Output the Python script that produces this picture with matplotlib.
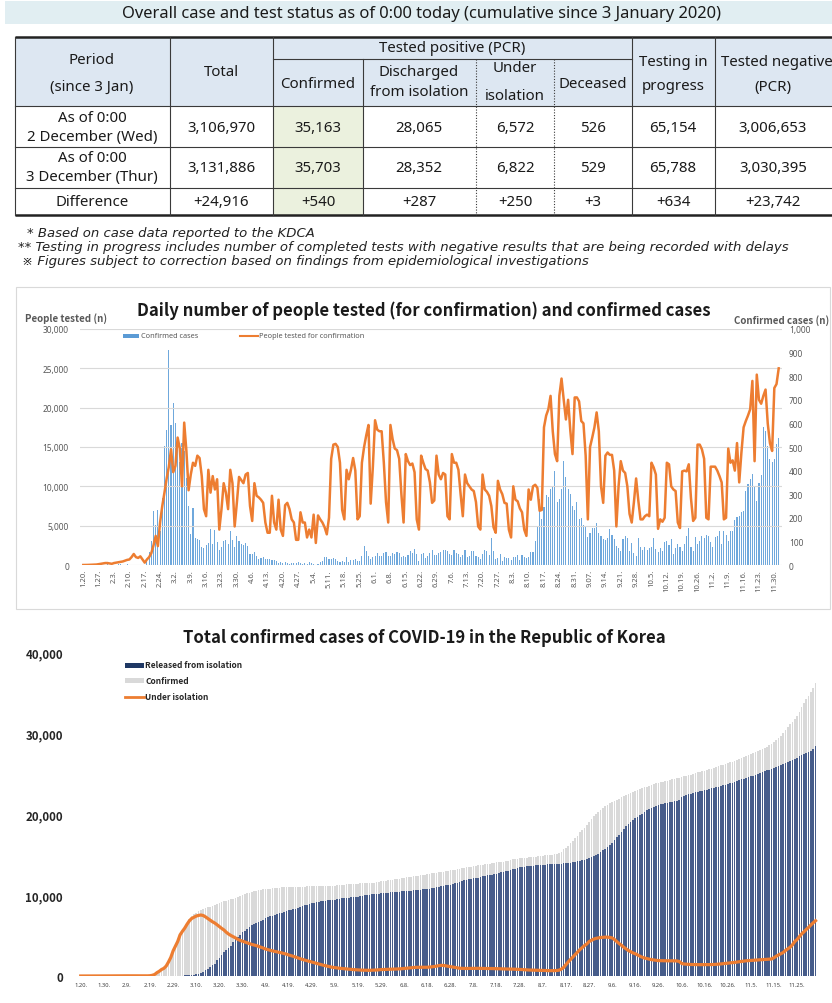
import numpy as np
import matplotlib
matplotlib.use("Agg")
import matplotlib.pyplot as plt
from matplotlib.patches import Rectangle

W, H = 832, 1004
plt.rcParams['font.family'] = ['Noto Sans', 'Noto Sans CJK KR', 'DejaVu Sans']
BOLD = ['Noto Sans CJK KR', 'DejaVu Sans']

# ------------------------------------------------------------------ data
table_title = "Overall case and test status as of 0:00 today (cumulative since 3 January 2020)"
row_label_top = ["As of 0:00", "As of 0:00", "Difference"]
row_label_bottom = ["2 December (Wed)", "3 December (Thur)", ""]
total = ["3,106,970", "3,131,886", "+24,916"]
confirmed_tbl = ["35,163", "35,703", "+540"]
discharged_tbl = ["28,065", "28,352", "+287"]
under_iso_tbl = ["6,572", "6,822", "+250"]
deceased_tbl = ["526", "529", "+3"]
testing_tbl = ["65,154", "65,788", "+634"]
negative_tbl = ["3,006,653", "3,030,395", "+23,742"]
footnotes = [
    "* Based on case data reported to the KDCA",
    "** Testing in progress includes number of completed tests with negative results that are being recorded with delays",
    "\u203b Figures subject to correction based on findings from epidemiological investigations",
]

chart1_title = "Daily number of people tested (for confirmation) and confirmed cases"
chart1_ticklabels = ["1.20.", "1.27.", "2.3.", "2.10.", "2.17.", "2.24.", "3.2.", "3.9.", "3.16.",
                     "3.23.", "3.30.", "4.6.", "4.13.", "4.20.", "4.27.", "5.4.", "5.11.", "5.18.",
                     "5.25.", "6.1.", "6.8.", "6.15.", "6.22.", "6.29.", "7.6.", "7.13.", "7.20.",
                     "7.27.", "8.3.", "8.10.", "8.17.", "8.24.", "8.31.", "9.07.", "9.14.", "9.21.",
                     "9.28.", "10.5.", "10.12.", "10.19.", "10.26.", "11.2.", "11.9.", "11.16.",
                     "11.23.", "11.30."]

# daily people tested for confirmation (20 Jan - 2 Dec), one line per week
people_tested = [
    0, 0, 10, 20, 30, 50, 60,
    100, 150, 200, 250, 250, 200, 150,
    250, 300, 350, 400, 450, 550, 650,
    700, 1000, 1400, 1000, 900, 1100, 700,
    300, 700, 1000, 1500, 2500, 3700, 2400,
    5400, 7500, 9200, 11000, 12500, 14700, 11800,
    12600, 16200, 14800, 10000, 18100, 14500, 9500,
    11500, 13000, 12600, 13900, 13600, 11300, 7100,
    6200, 12100, 9200, 11300, 9600, 10900, 4500,
    7100, 10400, 9200, 7100, 12100, 10400, 4900,
    7900, 11200, 10800, 10400, 11500, 11700, 7500,
    5600, 10400, 8800, 8600, 8300, 7900, 5400,
    4100, 4100, 8800, 5400, 4500, 8300, 4500,
    3700, 7600, 7900, 7100, 5800, 5400, 3200,
    3200, 6700, 5400, 5400, 3500, 4500, 3500,
    6400, 2800, 6300, 5800, 5400, 4800, 3900,
    6000, 13500, 15300, 15400, 15000, 13000, 7000,
    5800, 12100, 10900, 12100, 13600, 12000, 5800,
    6200, 13000, 15000, 16500, 17800, 7800, 12500,
    18400, 17200, 17000, 17000, 13000, 8000, 5400,
    17800, 16000, 14800, 14600, 13500, 9000, 5400,
    14100, 13200, 12700, 12900, 11800, 5800, 4500,
    13900, 13000, 12200, 12000, 10500, 7900, 8200,
    13900, 11500, 10900, 11700, 11500, 6200, 5800,
    14100, 13000, 13000, 12100, 9000, 6200, 11500,
    10400, 10000, 9600, 9400, 8000, 4900, 4500,
    11500, 9600, 9300, 8800, 7500, 4800, 4100,
    10700, 9600, 9000, 7900, 7800, 4500, 3500,
    10000, 8300, 8100, 7200, 6700, 4500, 3700,
    9600, 8300, 10000, 10200, 9800, 6900, 7000,
    17500, 19000, 19800, 21500, 17000, 14100, 13200,
    21500, 23700, 21000, 18500, 21000, 17100, 14100,
    21300, 21300, 20800, 18300, 18000, 13900, 5800,
    15000, 16200, 17500, 19400, 17000, 10000, 7900,
    13900, 14300, 14000, 14000, 12000, 4900, 10000,
    13200, 12000, 11700, 10000, 6500, 5400, 8000,
    11000, 8200, 5800, 5800, 6200, 6400, 6200,
    13000, 12400, 11500, 4600, 5800, 5500, 6000,
    13000, 12800, 10000, 9600, 9400, 5400, 4700,
    11900, 12000, 11900, 12800, 8500, 5600, 6000,
    15300, 15300, 14700, 13500, 6000, 5800, 12500,
    12500, 12500, 12000, 11300, 10500, 5800, 6000,
    14800, 13000, 13300, 12000, 15500, 10500, 14300,
    17500, 18300, 19000, 19800, 23400, 13200, 24200,
    21000, 20500, 21500, 22300, 18000, 15500, 14500,
    22500, 23000, 25000,
]

# daily confirmed cases (20 Jan - 2 Dec)
confirmed_daily = [
    1, 0, 0, 0, 1, 0, 1, 1, 0, 0,
    0, 4, 1, 3, 0, 1, 3, 5, 1, 0,
    3, 1, 0, 0, 0, 1, 1, 0, 1,
    20, 53, 100, 229, 169, 231, 144, 284, 505, 571,
    909, 595, 686, 600, 516, 438, 518, 483, 367, 248,
    131, 242, 114, 110, 107, 76, 74, 84, 93, 152,
    87, 147, 98, 64, 76, 100, 104, 91, 146, 105,
    78, 125, 101, 89, 86, 94, 81, 47, 47, 53,
    39, 27, 30, 32, 25, 27, 27, 22, 22, 18,
    8, 13, 9, 11, 8, 6, 10, 10, 10, 14,
    9, 4, 9, 6, 13, 8, 3, 2, 4, 12,
    18, 34, 35, 27, 26, 29, 27, 19, 13, 15,
    13, 32, 12, 20, 23, 25, 16, 19, 40, 79,
    58, 39, 27, 35, 38, 49, 39, 39, 51, 57,
    38, 38, 50, 45, 56, 49, 34, 37, 34, 43,
    59, 49, 67, 48, 17, 46, 51, 28, 39, 51,
    62, 42, 43, 51, 54, 63, 63, 61, 48, 44,
    63, 50, 45, 35, 44, 62, 33, 39, 61, 60,
    39, 34, 26, 45, 63, 59, 41, 113, 58, 25,
    28, 48, 18, 36, 31, 30, 23, 34, 33, 43,
    20, 43, 36, 28, 34, 54, 56, 103, 166, 279,
    197, 246, 297, 288, 324, 332, 397, 266, 280, 320,
    441, 371, 323, 299, 248, 235, 267, 195, 198, 168,
    167, 119, 136, 156, 155, 176, 136, 121, 109, 106,
    113, 153, 126, 110, 82, 70, 61, 110, 125, 114,
    61, 95, 50, 38, 113, 77, 63, 75, 64, 73,
    75, 114, 69, 54, 72, 58, 97, 102, 84, 110,
    47, 73, 91, 76, 58, 91, 121, 155, 77, 61,
    119, 88, 103, 125, 114, 127, 124, 97, 75, 118,
    125, 145, 89, 143, 126, 100, 146, 143, 191, 205,
    208, 223, 230, 313, 343, 363, 386, 330, 271, 349,
    382, 583, 569, 504, 450, 438, 451, 511, 540,
]

chart2_title = "Total confirmed cases of COVID-19 in the Republic of Korea"
chart2_ticklabels = ["1.20.", "1.30.", "2.9.", "2.19.", "2.29.", "3.10.", "3.20.", "3.30.", "4.9.",
                     "4.19.", "4.29.", "5.9.", "5.19.", "5.29.", "6.8.", "6.18.", "6.28.", "7.8.",
                     "7.18.", "7.28.", "8.7.", "8.17.", "8.27.", "9.6.", "9.16.", "9.26.", "10.6.",
                     "10.16.", "10.26.", "11.5.", "11.15.", "11.25."]

# under isolation (as of 0:00, 20 Jan - 3 Dec), ten days per line
under_isolation = [
    1, 1, 1, 1, 2, 2, 3, 4, 4, 4,
    6, 11, 12, 15, 15, 16, 18, 23, 24, 24,
    24, 25, 21, 21, 21, 21, 19, 20, 20, 19,
    35, 88, 186, 415, 584, 805, 947, 1231, 1734, 2302,
    3107, 3690, 4275, 5077, 5510, 5900, 6380, 6800, 7100, 7250,
    7400, 7480, 7530, 7470, 7300, 7100, 6900, 6700, 6540, 6330,
    6100, 5880, 5680, 5400, 5180, 5000, 4850, 4700, 4520, 4400,
    4300, 4200, 4100, 4000, 3900, 3830, 3750, 3650, 3550, 3450,
    3330, 3250, 3180, 3100, 3040, 2980, 2920, 2850, 2780, 2700,
    2600, 2520, 2430, 2330, 2230, 2130, 2040, 1960, 1890, 1800,
    1730, 1650, 1570, 1480, 1400, 1330, 1260, 1190, 1130, 1070,
    1030, 990, 960, 930, 900, 870, 840, 810, 790, 770,
    750, 730, 720, 710, 700, 700, 710, 720, 740, 770,
    790, 800, 810, 820, 830, 840, 850, 860, 880, 900,
    930, 960, 990, 1020, 1050, 1070, 1080, 1080, 1080, 1070,
    1080, 1100, 1130, 1170, 1220, 1280, 1320, 1300, 1250, 1200,
    1150, 1100, 1050, 1000, 960, 940, 930, 930, 930, 930,
    940, 950, 950, 940, 940, 930, 930, 920, 920, 910,
    910, 900, 890, 880, 870, 860, 860, 850, 840, 830,
    810, 790, 770, 750, 740, 730, 720, 700, 690, 680,
    670, 660, 660, 660, 660, 660, 680, 720, 850, 1050,
    1400, 1750, 2050, 2350, 2650, 2950, 3250, 3500, 3750, 3950,
    4250, 4400, 4550, 4650, 4700, 4750, 4780, 4800, 4790, 4760,
    4700, 4500, 4250, 4000, 3800, 3550, 3350, 3150, 3000, 2850,
    2750, 2600, 2450, 2320, 2220, 2150, 2080, 2020, 1980, 1940,
    1900, 1890, 1890, 1880, 1880, 1880, 1880, 1870, 1860, 1800,
    1560, 1480, 1460, 1440, 1420, 1420, 1410, 1400, 1400, 1400,
    1400, 1400, 1400, 1410, 1420, 1440, 1460, 1490, 1520, 1550,
    1570, 1600, 1640, 1680, 1720, 1760, 1800, 1850, 1880, 1900,
    1920, 1940, 1960, 1980, 2000, 2020, 2040, 2060, 2080, 2100,
    2250, 2450, 2600, 2750, 2900, 3150, 3350, 3550, 3850, 4250,
    4500, 4850, 5200, 5450, 5750, 6000, 6300, 6572, 6822,
]

# released from isolation, cumulative (as of 0:00, 20 Jan - 3 Dec)
released = [
    0, 0, 0, 0, 0, 0, 0, 0, 0, 0,
    0, 0, 0, 0, 0, 0, 1, 1, 2, 3,
    3, 4, 7, 7, 7, 7, 9, 10, 12, 12,
    16, 16, 16, 18, 18, 18, 22, 22, 24, 26,
    27, 30, 30, 34, 41, 88, 108, 130, 135, 166,
    247, 288, 333, 510, 714, 834, 1137, 1401, 1540, 1947,
    2233, 2612, 2909, 3166, 3507, 3730, 4144, 4528, 4811, 5033,
    5410, 5570, 5830, 6020, 6320, 6460, 6600, 6690, 6780, 6970,
    7120, 7240, 7370, 7450, 7530, 7640, 7760, 7830, 7940, 8030,
    8100, 8140, 8210, 8280, 8410, 8500, 8640, 8720, 8820, 8920,
    9010, 9070, 9120, 9190, 9220, 9260, 9290, 9330, 9370, 9380,
    9420, 9460, 9510, 9570, 9630, 9660, 9680, 9700, 9710, 9730,
    9800, 9850, 9900, 9950, 10010, 10050, 10080, 10110, 10140, 10160,
    10190, 10220, 10250, 10290, 10320, 10340, 10370, 10400, 10420, 10450,
    10480, 10500, 10530, 10550, 10580, 10610, 10640, 10660, 10690, 10720,
    10750, 10800, 10860, 10920, 10980, 11040, 11100, 11150, 11190, 11230,
    11280, 11340, 11420, 11500, 11620, 11750, 11820, 11880, 11930, 11980,
    12040, 12100, 12160, 12220, 12290, 12350, 12410, 12470, 12530, 12590,
    12650, 12720, 12790, 12860, 12930, 13010, 13090, 13170, 13240, 13320,
    13400, 13450, 13490, 13530, 13570, 13600, 13630, 13660, 13690, 13720,
    13740, 13760, 13780, 13800, 13820, 13830, 13850, 13870, 13880, 13900,
    13920, 13950, 13990, 14040, 14100, 14160, 14220, 14280, 14350, 14440,
    14520, 14640, 14780, 14950, 15120, 15300, 15500, 15720, 15950, 16200,
    16450, 16750, 17100, 17450, 17800, 18150, 18500, 18800, 19050, 19250,
    19450, 19650, 19850, 20050, 20250, 20450, 20600, 20750, 20880, 21000,
    21100, 21180, 21250, 21320, 21380, 21440, 21500, 21560, 21620, 21680,
    22100, 22260, 22350, 22420, 22500, 22580, 22660, 22730, 22800, 22870,
    22940, 23010, 23080, 23150, 23220, 23300, 23380, 23460, 23540, 23620,
    23700, 23780, 23880, 23980, 24080, 24180, 24280, 24370, 24460, 24550,
    24640, 24740, 24840, 24950, 25060, 25170, 25280, 25390, 25490, 25600,
    25710, 25830, 25960, 26090, 26220, 26340, 26460, 26580, 26700, 26830,
    26960, 27100, 27240, 27380, 27520, 27660, 27810, 28065, 28352,
]

assert len(people_tested) == len(confirmed_daily) == 318
assert len(under_isolation) == len(released) == 319

# cumulative confirmed as of 0:00 each day (derived from the daily counts)
confirmed_cum = np.concatenate([[0], np.cumsum(confirmed_daily)])

# ------------------------------------------------------------------ figure
fig = plt.figure(figsize=(W / 100, H / 100), dpi=100)
fig.patch.set_facecolor("white")
ov = fig.add_axes([0, 0, 1, 1])
ov.set_xlim(0, W)
ov.set_ylim(H, 0)
ov.axis("off")
ov.patch.set_visible(False)


def px_axes(x0, y0, x1, y1):
    return fig.add_axes([x0 / W, 1 - y1 / H, (x1 - x0) / W, (y1 - y0) / H])


TXT = "#1a1a1a"
# ---- title band
ov.add_patch(Rectangle((5, 2), W - 5, 23, color="#e1eef2", lw=0))
ov.text(421, 14, table_title, ha="center", va="center", fontsize=11.9, color=TXT)

# ---- table
ov.add_patch(Rectangle((15, 38), W - 15, 69, color="#dde7f2", lw=0))
ov.add_patch(Rectangle((273, 107), 90, 109, color="#ebf1de", lw=0))
LC = "#3a3a3a"
ov.plot([15, W], [38, 38], color="#222222", lw=1.8, solid_capstyle="butt")
ov.plot([15, W], [216, 216], color="#222222", lw=1.8, solid_capstyle="butt")
for yy in (107, 148, 189):
    ov.plot([15, W], [yy, yy], color=LC, lw=0.8)
ov.plot([273, 632], [60, 60], color=LC, lw=0.8)
for xx in (15, 170, 273, 632, 715):
    ov.plot([xx, xx], [38, 216], color=LC, lw=0.8)
ov.plot([363, 363], [60, 216], color=LC, lw=0.8)
for xx in (476, 554):
    ov.plot([xx, xx], [60, 216], color=LC, lw=0.8, ls=(0, (1, 1.5)))

hfs = 10.8
headers = [
    (92, 60, "Period"), (92, 87, "(since 3 Jan)"), (221, 73, "Total"),
    (452, 49, "Tested positive (PCR)"), (318, 84, "Confirmed"),
    (419, 72, "Discharged"), (419, 93, "from isolation"),
    (515, 69, "Under"), (515, 97, "isolation"), (593, 84, "Deceased"),
    (673, 62, "Testing in"), (673, 87, "progress"),
    (777, 62, "Tested negative"), (773, 87, "(PCR)"),
]
for x, y, s in headers:
    ov.text(x, y, s, ha="center", va="center", fontsize=hfs, color=TXT)

row_y = [128, 169, 203]
for i in range(3):
    if row_label_bottom[i]:
        ov.text(92, row_y[i] - 10, row_label_top[i], ha="center", va="center", fontsize=hfs, color=TXT)
        ov.text(92, row_y[i] + 9, row_label_bottom[i], ha="center", va="center", fontsize=hfs, color=TXT)
    else:
        ov.text(92, row_y[i], row_label_top[i], ha="center", va="center", fontsize=hfs, color=TXT)
col_centers = [221, 318, 419, 515, 593, 673, 773]
col_vals = [total, confirmed_tbl, discharged_tbl, under_iso_tbl, deceased_tbl, testing_tbl, negative_tbl]
for cx, vals in zip(col_centers, col_vals):
    for i in range(3):
        ov.text(cx, row_y[i], vals[i], ha="center", va="center", fontsize=hfs, color=TXT)

# ---- footnotes
for (x, y), s in zip([(27, 233), (18, 248), (22, 262)], footnotes):
    ov.text(x, y, s, ha="left", va="center", fontsize=9.5, style="italic",
            family=["DejaVu Sans", "Noto Sans CJK KR"], color="#222222")

# ---- chart 1 frame, titles, legend
ov.add_patch(Rectangle((16, 288), W - 18, 322, fill=False, edgecolor="#d9d9d9", lw=0.8))
ov.text(424, 311, chart1_title, ha="center", va="center", fontsize=12, fontweight="bold",
        family=BOLD, color=TXT)
ov.text(25, 319, "People tested (n)", ha="left", va="center", fontsize=7, fontweight="bold",
        family=BOLD, color="#595959")
ov.text(829, 321, "Confirmed cases (n)", ha="right", va="center", fontsize=7, fontweight="bold",
        family=BOLD, color="#595959")
ov.add_patch(Rectangle((123, 334.5), 16, 4.5, color="#5b9bd5", lw=0))
ov.text(141, 337, "Confirmed cases", ha="left", va="center", fontsize=5.3, color="#595959")
ov.plot([240, 258], [337, 337], color="#ed7d31", lw=1.5)
ov.text(259, 337, "People tested for confirmation", ha="left", va="center", fontsize=5.3, color="#595959")

# ---- chart 1 axes
x1 = np.arange(len(people_tested))
axr = px_axes(80, 330, 782, 566)
ax = fig.add_axes(axr.get_position(), sharex=axr)
ax.set_zorder(axr.get_zorder() + 1)
ax.patch.set_visible(False)
axr.patch.set_visible(False)
axr.bar(x1, confirmed_daily, width=0.5, color="#6fa8dc", lw=0)
ax.plot(x1, people_tested, color="#ed7d31", lw=1.8, solid_joinstyle="round")
ax.set_xlim(-1.5, 318.5)
ax.set_ylim(0, 30000)
axr.set_ylim(0, 1000)
ax.set_yticks(np.arange(0, 30001, 5000))
ax.set_yticklabels([f"{v:,}" for v in range(0, 30001, 5000)])
axr.yaxis.tick_right()
axr.set_yticks(np.arange(0, 1001, 100))
axr.set_yticklabels([f"{v:,}" for v in range(0, 1001, 100)])
ax.yaxis.grid(True, color="#d9d9d9", lw=0.8)
ax.set_axisbelow(True)
for a in (ax, axr):
    for s in a.spines.values():
        s.set_visible(False)
ax.tick_params(axis="y", length=0, labelsize=6, labelcolor="#595959", pad=8)
axr.tick_params(axis="y", length=0, labelsize=6, labelcolor="#595959", pad=5)
ax.set_xticks(np.arange(0, 318, 7))
ax.set_xticklabels(chart1_ticklabels, rotation=90, fontsize=5.5, color="#595959")
ax.tick_params(axis="x", length=0, pad=3)
axr.tick_params(axis="x", length=0, labelbottom=False)

# ---- chart 2 titles/legend
ov.text(424, 638, chart2_title, ha="center", va="center", fontsize=12, fontweight="bold",
        family=BOLD, color=TXT)
ov.add_patch(Rectangle((125, 663.5), 19, 5, color="#1f3864", lw=0))
ov.text(145, 666, "Released from isolation", ha="left", va="center", fontsize=6, fontweight="bold",
        family=BOLD, color="#262626")
ov.add_patch(Rectangle((125, 679), 19, 5, color="#d9d9d9", lw=0))
ov.text(145, 681.5, "Confirmed", ha="left", va="center", fontsize=6, fontweight="bold",
        family=BOLD, color="#262626")
ov.plot([125, 144], [697.5, 697.5], color="#ed7d31", lw=2)
ov.text(145, 697.5, "Under isolation", ha="left", va="center", fontsize=6, fontweight="bold",
        family=BOLD, color="#262626")

# ---- chart 2 axes
x2 = np.arange(len(released))
ax2 = px_axes(77, 653, 822, 977)
ax2.patch.set_visible(False)
ax2.bar(x2, confirmed_cum, width=0.72, color="#d9d9d9", lw=0)
ax2.bar(x2, released, width=0.72, color="#465c8a", lw=0)
ax2.plot(x2, under_isolation, color="#ed7d31", lw=2.3, solid_joinstyle="round")
ax2.set_xlim(-1.6, 320.8)
ax2.set_ylim(0, 40000)
ax2.set_yticks(np.arange(0, 40001, 10000))
ax2.set_yticklabels([f"{v:,}" for v in range(0, 40001, 10000)], fontweight="bold", family=BOLD)
ax2.tick_params(axis="y", length=0, labelsize=8.3, labelcolor="#262626", pad=10)
ax2.set_xticks(np.arange(0, 319, 10))
ax2.set_xticklabels(chart2_ticklabels, fontsize=4.2, color="#404040")
ax2.tick_params(axis="x", length=0, pad=4)
for s in ax2.spines.values():
    s.set_visible(False)

fig.savefig("out.png", dpi=100, facecolor="white")
